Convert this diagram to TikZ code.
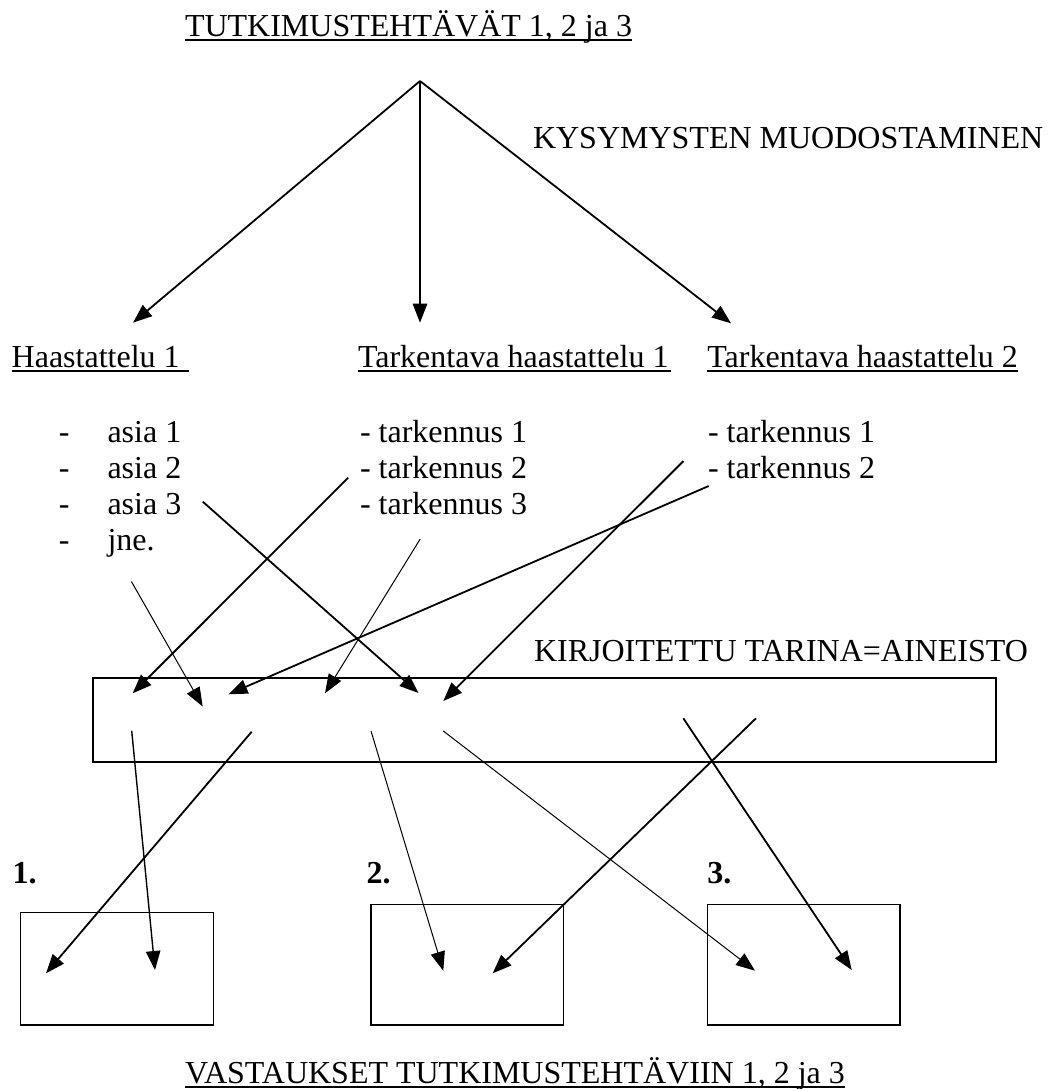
\documentclass[tikz,border=0pt]{standalone}
\usepackage{fontspec}
\setmainfont{Liberation Serif}
\usetikzlibrary{arrows.meta}
\begin{document}
\begin{tikzpicture}[x=0.5pt,y=-0.5pt,
  lbl/.style={inner sep=0pt, outer sep=0pt, anchor=base west, font=\fontsize{16}{19}\selectfont},
  numlbl/.style={lbl, font=\fontsize{16}{19}\selectfont\bfseries},
  uline/.style={line width=0.7pt},
  tipst/.style={-{Triangle[length=9.5pt,width=7.2pt]}},
  thickarr/.style={tipst, line width=0.9pt},
  midarr/.style={tipst, line width=0.7pt},
  thinarr/.style={tipst, line width=0.5pt},
  boxst/.style={draw, line width=0.75pt, inner sep=0pt, outer sep=0pt, anchor=north west}]
\useasboundingbox (0,0) rectangle (1048,1089);

% ---- texts ----
\node[lbl] (title) at (185,36) {TUTKIMUSTEHTÄVÄT 1, 2 ja 3};
\draw[uline] ([yshift=-2pt]title.base west) -- ([yshift=-2pt]title.base east);
\node[lbl] (kys) at (533,148) {KYSYMYSTEN MUODOSTAMINEN};

\node[lbl] (h1) at (11.7,367) {Haastattelu 1};
\draw[uline] ([yshift=-1.9pt]h1.base west) -- ([yshift=-1.9pt,xshift=4.5pt]h1.base east);
\node[lbl] (t1) at (358,367) {Tarkentava haastattelu 1};
\draw[uline] ([yshift=-1.9pt]t1.base west) -- ([yshift=-1.9pt,xshift=1pt]t1.base east);
\node[lbl] (t2) at (707.3,367) {Tarkentava haastattelu 2};
\draw[uline] ([yshift=-1.9pt]t2.base west) -- ([yshift=-1.9pt]t2.base east);

\node[lbl] (d1) at (59,442) {-};
\node[lbl] (d2) at (59,478) {-};
\node[lbl] (d3) at (59,514) {-};
\node[lbl] (d4) at (59,550) {-};
\node[lbl] (a1) at (107.5,442) {asia 1};
\node[lbl] (a2) at (107.5,478) {asia 2};
\node[lbl] (a3) at (107.5,514) {asia 3};
\node[lbl] (a4) at (107.5,550) {jne.};

\node[lbl] (b1) at (360,442) {- tarkennus 1};
\node[lbl] (b2) at (360,478) {- tarkennus 2};
\node[lbl] (b3) at (360,514) {- tarkennus 3};

\node[lbl] (c1) at (708,442) {- tarkennus 1};
\node[lbl] (c2) at (708,478) {- tarkennus 2};

\node[lbl] (kir) at (534,661.7) {KIRJOITETTU TARINA=AINEISTO};

\node[numlbl] (n1) at (12.7,883.3) {1.};
\node[numlbl] (n2) at (366.7,883.3) {2.};
\node[numlbl] (n3) at (707.3,883.3) {3.};

\node[lbl] (vas) at (185,1083) {VASTAUKSET TUTKIMUSTEHTÄVIIN 1, 2 ja 3};
\draw[uline] ([yshift=-2pt]vas.base west) -- ([yshift=-2pt]vas.base east);

% ---- boxes ----
\node[boxst, minimum width=451.5pt, minimum height=42pt] (story) at (93,678) {};
\node[boxst, minimum width=96.3pt, minimum height=56.15pt] (r1) at (20.7,912.7) {};
\node[boxst, minimum width=96.15pt, minimum height=60.35pt] (r2) at (371,904.3) {};
\node[boxst, minimum width=96.15pt, minimum height=60.35pt] (r3) at (707.7,904.3) {};

% ---- coordinates ----
\coordinate (apex) at (420,81);
\coordinate (tipH) at (133,322.7);
\coordinate (tipT1) at (420,322.7);
\coordinate (tipT2) at (731,323.3);

\coordinate (sA3) at (202.8,501.7);
\coordinate (eA3) at (418.5,693);
\coordinate (sB2) at (348.2,477.7);
\coordinate (eB2) at (132.7,693.3);
\coordinate (sJne) at (131.4,581.5);
\coordinate (eJne) at (202.7,706.5);
\coordinate (sB3) at (420.2,539);
\coordinate (eB3) at (325,693.3);
\coordinate (sC2) at (708.7,486);
\coordinate (eC2) at (228.5,694.3);
\coordinate (sC1) at (683.5,461);
\coordinate (eC1) at (443.3,701);

\coordinate (sM1) at (131.7,730.7);
\coordinate (eM1) at (155,970);
\coordinate (sM2) at (251.7,731.7);
\coordinate (eM2) at (46,973.3);
\coordinate (sM3) at (371,731);
\coordinate (eM3) at (443.3,970.7);
\coordinate (sM4) at (443.3,731);
\coordinate (eM4) at (755,970.7);
\coordinate (sM5) at (756,718.3);
\coordinate (eM5) at (492.7,973.3);
\coordinate (sM6) at (683.3,718.3);
\coordinate (eM6) at (851.7,970);

% ---- connectors ----
\draw[thickarr] (apex) -- (tipH);
\draw[thickarr] (apex) -- (tipT1);
\draw[thickarr] (apex) -- (tipT2);

\draw[thickarr] (sA3) -- (eA3);
\draw[thickarr] (sB2) -- (eB2);
\draw[thinarr] (sJne) -- (eJne);
\draw[thinarr] (sB3) -- (eB3);
\draw[thickarr] (sC2) -- (eC2);
\draw[thickarr] (sC1) -- (eC1);

\draw[midarr] (sM1) -- (eM1);
\draw[thickarr] (sM2) -- (eM2);
\draw[thinarr] (sM3) -- (eM3);
\draw[thinarr] (sM4) -- (eM4);
\draw[thickarr] (sM5) -- (eM5);
\draw[thickarr] (sM6) -- (eM6);
\end{tikzpicture}
\end{document}
